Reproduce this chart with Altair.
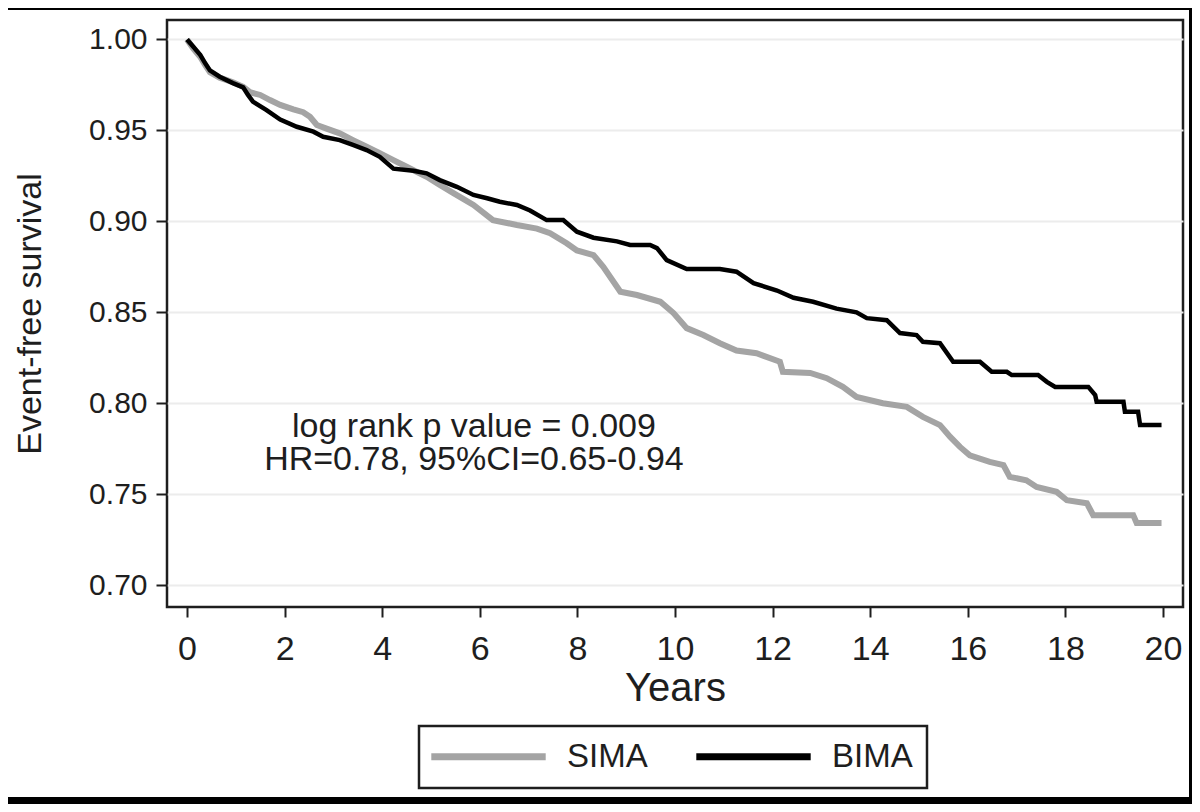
import altair as alt
import pandas as pd

# ---- data ----
years_bima = [0, 0.13, 0.27, 0.37, 0.47, 0.67, 0.94, 1.15, 1.25, 1.35, 1.63, 1.91, 2.25,
              2.59, 2.79, 3.13, 3.4, 3.68, 3.95, 4.23, 4.64, 4.91, 5.18, 5.53, 5.87, 6.15,
              6.41, 6.76, 7.03, 7.37, 7.71, 7.99, 8.33, 8.81, 9.08, 9.49, 9.63, 9.83, 10.24,
              10.92, 11.26, 11.61, 12.09, 12.43, 12.83, 13.31, 13.72, 13.93, 14.34, 14.61,
              14.95, 15.08, 15.43, 15.70, 16.25, 16.49, 16.80, 16.90, 17.44, 17.62, 17.79,
              18.47, 18.61, 18.64, 19.19, 19.22, 19.49, 19.53, 19.97]
surv_bima = [1.000, 0.996, 0.9915, 0.987, 0.983, 0.9795, 0.976, 0.9737, 0.9695, 0.9658,
             0.9612, 0.956, 0.952, 0.9493, 0.9465, 0.9447, 0.942, 0.9392, 0.9355, 0.929,
             0.9278, 0.9264, 0.9227, 0.919, 0.9145, 0.9127, 0.9108, 0.909, 0.906, 0.9007,
             0.9007, 0.8943, 0.891, 0.889, 0.887, 0.887, 0.8853, 0.8787, 0.8738, 0.8738,
             0.8723, 0.866, 0.862, 0.858, 0.8558, 0.852, 0.850, 0.8468, 0.8457, 0.8386,
             0.8375, 0.8338, 0.833, 0.8228, 0.8228, 0.8173, 0.8173, 0.8155, 0.8155, 0.8118,
             0.809, 0.809, 0.8045, 0.8008, 0.8008, 0.7953, 0.7953, 0.788, 0.788]

years_sima = [0, 0.13, 0.27, 0.37, 0.47, 0.67, 0.94, 1.15, 1.29, 1.50, 1.70, 1.91, 2.18,
              2.38, 2.52, 2.66, 2.86, 3.13, 3.4, 3.68, 3.95, 4.23, 4.5, 4.91, 5.18, 5.46,
              5.87, 6.27, 6.76, 7.17, 7.44, 7.78, 7.99, 8.33, 8.53, 8.88, 9.22, 9.7, 9.97,
              10.24, 10.58, 10.92, 11.26, 11.67, 12.15, 12.21, 12.77, 13.11, 13.44, 13.72,
              14.26, 14.75, 15.08, 15.43, 15.64, 15.84, 16.04, 16.45, 16.73, 16.86, 17.2,
              17.41, 17.82, 18.03, 18.44, 18.57, 19.39, 19.46, 19.97]
surv_sima = [1.000, 0.995, 0.9905, 0.986, 0.982, 0.979, 0.9765, 0.974, 0.971, 0.9695,
             0.9667, 0.964, 0.9616, 0.960, 0.9575, 0.953, 0.951, 0.9484, 0.9447, 0.941,
             0.9375, 0.9337, 0.930, 0.9245, 0.920, 0.9155, 0.909, 0.9007, 0.898, 0.896,
             0.8935, 0.888, 0.884, 0.8815, 0.875, 0.8613, 0.8595, 0.8558, 0.8496, 0.8413,
             0.8375, 0.833, 0.829, 0.8275, 0.8228, 0.8173, 0.8167, 0.8138, 0.809, 0.8035,
             0.800, 0.798, 0.7925, 0.788, 0.7815, 0.776, 0.7714, 0.7678, 0.766, 0.7595,
             0.7577, 0.754, 0.7513, 0.7467, 0.745, 0.7385, 0.7385, 0.7342, 0.7342]

groups = ["SIMA", "BIMA"]
group_colors = ["#a4a4a4", "#000000"]
x_ticks = [0, 2, 4, 6, 8, 10, 12, 14, 16, 18, 20]
y_ticks = [0.70, 0.75, 0.80, 0.85, 0.90, 0.95, 1.00]
annot_text = ["log rank p value = 0.009\nHR=0.78, 95%CI=0.65-0.94"]
annot_x = [5.88]
annot_y = [0.7814]

FONT = "Liberation Sans"
INK = "#1e1e1e"

sima = pd.DataFrame({"Years": years_sima, "Survival": surv_sima, "Group": "SIMA"})
bima = pd.DataFrame({"Years": years_bima, "Survival": surv_bima, "Group": "BIMA"})
annot = pd.DataFrame({"Years": annot_x, "Survival": annot_y, "label": annot_text})

x_enc = alt.X("Years:Q",
              scale=alt.Scale(domain=[-0.41, 20.41], nice=False, zero=False),
              axis=alt.Axis(values=x_ticks, title="Years", grid=False, tickSize=10,
                            labelPadding=15, labelFontSize=34, titleFontSize=40,
                            titlePadding=2))
y_enc = alt.Y("Survival:Q",
              scale=alt.Scale(domain=[0.688, 1.0107], nice=False, zero=False),
              axis=alt.Axis(values=y_ticks, format=".2f", title="Event-free survival",
                            grid=True, tickSize=11, labelPadding=9, labelFontSize=30,
                            titleFontSize=34, titlePadding=41))
color_enc = alt.Color("Group:N",
                      scale=alt.Scale(domain=groups, range=group_colors),
                      legend=alt.Legend(title=None, orient="none", legendX=252, legendY=706,
                                        direction="horizontal", columns=2,
                                        symbolType="M-4.4,0H4.4", symbolSize=676,
                                        symbolStrokeWidth=7, symbolOffset=39,
                                        labelFontSize=33, labelOffset=62,
                                        columnPadding=34, padding=14,
                                        strokeColor=INK, labelFont=FONT, labelColor=INK))

sima_line = alt.Chart(sima).mark_line(strokeWidth=6, strokeJoin="miter").encode(
    x=x_enc, y=y_enc, color=color_enc)
bima_line = alt.Chart(bima).mark_line(strokeWidth=4.5, strokeJoin="miter").encode(
    x=x_enc, y=y_enc, color=color_enc)

text = alt.Chart(annot).mark_text(align="center", baseline="alphabetic", fontSize=34,
                                  lineBreak="\n", lineHeight=33,
                                  font=FONT, color=INK).encode(
    x="Years:Q", y="Survival:Q", text="label:N")

# black picture frame around the figure (decoration)
dummy = pd.DataFrame({"a": [0]})
frame_bottom = alt.Chart(dummy).mark_rule(color="black", strokeWidth=7).encode(
    x=alt.value(-159), x2=alt.value(1025), y=alt.value(780.5))
frame_top = alt.Chart(dummy).mark_rule(color="black", strokeWidth=2).encode(
    x=alt.value(-159), x2=alt.value(1025), y=alt.value(-11))
frame_right = alt.Chart(dummy).mark_rule(color="black", strokeWidth=3).encode(
    x=alt.value(1023.5), y=alt.value(-12), y2=alt.value(784))

chart = alt.layer(sima_line, bima_line, text, frame_bottom, frame_top, frame_right).properties(
    width=1016, height=587,
    autosize=alt.AutoSizeParams(type="none"),
    padding={"left": 159, "top": 12, "right": 9, "bottom": 197},
    background="white",
).configure_axis(
    labelFont=FONT, titleFont=FONT, labelColor=INK, titleColor=INK,
    titleFontWeight="normal", tickColor=INK, tickWidth=2, domain=False,
    gridColor="#ececec", gridWidth=2,
).configure_legend(
    strokeWidth=2.5,
).configure_view(
    stroke=INK, strokeWidth=2.5,
)

chart.save("out.html", embed_options={"renderer": "svg", "actions": False})
